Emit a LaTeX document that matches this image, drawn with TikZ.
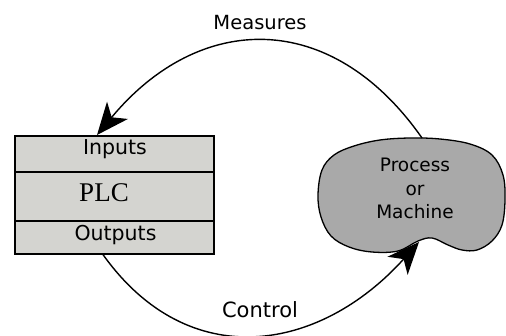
\documentclass[tikz,border=0pt]{standalone}
\usepackage{fontspec}
\usetikzlibrary{arrows.meta}
\newfontfamily\diagsans{DejaVu Sans}
\newfontfamily\diagserif{Liberation Serif}
\definecolor{boxgray}{HTML}{D4D4D0}
\definecolor{blobgray}{HTML}{A9A9A9}
\begin{document}
\begin{tikzpicture}[x=1pt,y=-1pt,
  row/.style={draw, line width=1.6pt, fill=boxgray, minimum width=199pt,
              anchor=north west, inner sep=0pt},
  sanslabel/.style={font=\diagsans\fontsize{#1}{#1}\selectfont,
                    inner sep=0pt, anchor=base},
  sanslabel/.default=20,
  link/.style={line width=1.4pt, -{Stealth[length=32pt,width=27pt,inset=9pt]}}]
\useasboundingbox[fill=white] (0,0) rectangle (506,336);

% PLC block: three stacked rows
\node[row, minimum height=36pt] (inputs)  at (14,135) {};
\node[row, minimum height=49pt] (plc)     at (14,171) {};
\node[row, minimum height=33pt] (outputs) at (14,220) {};
\node[sanslabel=20.5] (inputslabel) at (115,155) {Inputs};
\node[font=\diagserif\fontsize{27}{30}\selectfont, inner sep=0pt, anchor=base]
     (plclabel) at (104,201.5) {PLC};
\node[sanslabel=20.5] (outputslabel) at (115.5,241) {Outputs};

% process / machine blob
\draw[line width=1.3pt, fill=blobgray] plot[smooth cycle, tension=0.6] coordinates {
  (318,195) (322,170) (334,155) (354,146) (380,140) (410,138) (440,139)
  (470,144) (492,155) (503,175) (505,200) (502,225) (492,241) (477,250)
  (462,250) (448,245) (432,238) (418,241) (398,251) (372,252) (349,247)
  (331,236) (321,217)};
\node[font=\diagsans\fontsize{18.5}{23.3}\selectfont, align=center, inner sep=0pt]
     (process) at (415,188.5) {Process\\or\\Machine};

% connector end points
\coordinate (measStart) at (422,138);
\coordinate (measEnd)   at ([xshift=83pt]inputs.north west);
\coordinate (ctrlStart) at ([xshift=89pt]outputs.south west);
\coordinate (ctrlEnd)   at (419,242);

% feedback loop
\draw[link] (measStart) .. controls (331,8) and (199,12) .. (measEnd);
\draw[link] (ctrlStart) .. controls (189,375) and (320,352) .. (ctrlEnd);

\node[sanslabel=19.5] (measures) at (260,30) {Measures};
\node[sanslabel=21] (control) at (260,318) {Control};
\end{tikzpicture}
\end{document}
